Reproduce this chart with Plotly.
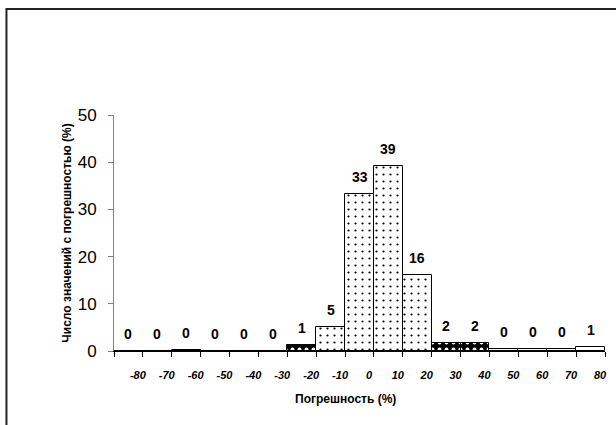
import plotly.graph_objects as go

# Bin centers (error %, bin width 10) and values
bin_centers = [-85, -75, -65, -55, -45, -35, -25, -15, -5, 5, 15, 25, 35, 45, 55, 65, 75]
bar_heights = [0, 0, 0.3, 0, 0, 0, 1.3, 5, 33.3, 39.2, 16, 1.6, 1.6, 0.4, 0.4, 0.4, 0.8]
bar_labels = ["0", "0", "0", "0", "0", "0", "1", "5", "33", "39", "16", "2", "2", "0", "0", "0", "1"]
bar_kind = ["w", "w", "w", "w", "w", "w", "d", "l", "l", "l", "l", "d", "d", "w", "w", "w", "w"]

x_tickvals = [-90, -80, -70, -60, -50, -40, -30, -20, -10, 0, 10, 20, 30, 40, 50, 60, 70, 80]
x_ticktext = ["", "-80", "-70", "-60", "-50", "-40", "-30", "-20", "-10", "0", "10", "20", "30", "40", "50", "60", "70", "80"]
y_tickvals = [0, 10, 20, 30, 40, 50]

shape_map = {"w": "", "l": ".", "d": "."}
bg_map = {"w": "white", "l": "white", "d": "black"}
fg_map = {"w": "black", "l": "black", "d": "white"}
size_map = {"w": 6, "l": 7, "d": 7}
solid_map = {"w": 0.1, "l": 0.08, "d": 0.25}

fig = go.Figure()
fig.add_trace(go.Bar(
    x=bin_centers, y=bar_heights, width=10,
    marker=dict(
        color="white",
        line=dict(color="black", width=1),
        pattern=dict(
            shape=[shape_map[k] for k in bar_kind],
            bgcolor=[bg_map[k] for k in bar_kind],
            fgcolor=[fg_map[k] for k in bar_kind],
            size=[size_map[k] for k in bar_kind],
            solidity=[solid_map[k] for k in bar_kind],
            fillmode="replace",
        ),
    ),
    hoverinfo="skip",
))

for xc, h, lab in zip(bin_centers, bar_heights, bar_labels):
    fig.add_annotation(x=xc, y=h, text=lab, showarrow=False, yanchor="bottom", yshift=7,
                       font=dict(family="Arial", size=14, color="black", weight="bold"))

fig.add_annotation(xref="paper", yref="paper", x=0.472, y=-0.203, text="Погрешность (%)",
                   showarrow=False, xanchor="center", yanchor="middle",
                   font=dict(family="Arial", size=12, color="black", weight="bold"))

fig.add_shape(type="rect", xref="paper", yref="paper", x0=-0.219, x1=1.2, y0=-0.6, y1=1.449,
              line=dict(color="#222", width=2), fillcolor="rgba(0,0,0,0)", layer="below")

fig.update_layout(
    width=616, height=425,
    margin=dict(l=114, r=9, t=115, b=74),
    paper_bgcolor="white", plot_bgcolor="white",
    showlegend=False, bargap=0,
    font=dict(family="Arial", color="black"),
    xaxis=dict(
        range=[-90, 80], tickmode="array", tickvals=x_tickvals, ticktext=x_ticktext,
        showgrid=False, zeroline=False, showline=True, linecolor="black", linewidth=1,
        ticks="outside", ticklen=5, tickcolor="black",
        ticklabelshift=-5, ticklabelstandoff=9,
        tickfont=dict(family="Arial", size=11, color="black", weight="bold", style="italic"),
    ),
    yaxis=dict(
        range=[0, 50], tickmode="array", tickvals=y_tickvals,
        showgrid=False, zeroline=False, showline=True, linecolor="#808080", linewidth=1,
        ticks="outside", ticklen=5, tickcolor="#808080",
        ticklabelstandoff=8,
        tickfont=dict(family="Arial", size=17, color="black"),
        title=dict(text="Число значений с погрешностью (%)", standoff=3,
                   font=dict(family="Arial", size=12, color="black", weight="bold")),
    ),
)

fig.write_html("out.html", config={"displayModeBar": False},
               post_script="document.body.style.margin='0px';")
